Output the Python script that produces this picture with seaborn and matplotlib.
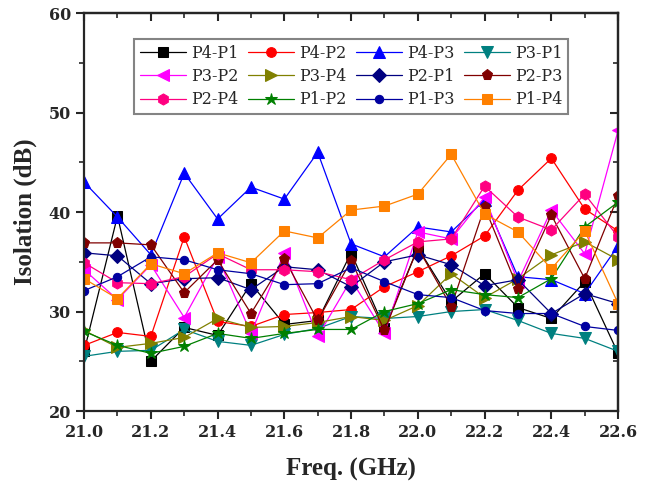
import matplotlib
matplotlib.use("Agg")
import matplotlib.pyplot as plt
import seaborn as sns
from matplotlib.ticker import MultipleLocator

# frequency points (GHz)
freq = [21.0, 21.1, 21.2, 21.3, 21.4, 21.5, 21.6, 21.7, 21.8,
        21.9, 22.0, 22.1, 22.2, 22.3, 22.4, 22.5, 22.6]

# isolation values (dB)
p4_p1 = [26.0, 39.6, 25.0, 28.4, 27.6, 32.8, 28.7, 29.1, 35.9, 28.3, 36.4, 31.0, 33.8, 30.4, 29.3, 33.0, 25.8]
p4_p2 = [26.6, 27.9, 27.5, 37.5, 29.0, 28.5, 29.7, 29.9, 30.2, 32.5, 34.0, 35.6, 37.6, 42.2, 45.4, 40.3, 38.1]
p4_p3 = [43.0, 39.5, 35.7, 43.9, 39.3, 42.5, 41.3, 46.0, 36.8, 35.5, 38.5, 38.0, 41.2, 33.5, 33.2, 31.8, 36.6]
p3_p1 = [25.5, 26.0, 26.1, 28.2, 27.0, 26.6, 27.7, 28.3, 29.5, 29.3, 29.5, 30.0, 30.2, 29.1, 27.8, 27.3, 26.0]
p3_p2 = [34.2, 31.2, 34.7, 29.4, 35.5, 27.8, 35.9, 27.5, 33.2, 27.8, 38.0, 37.3, 41.5, 33.0, 40.2, 35.8, 48.2]
p3_p4 = [28.1, 26.4, 26.8, 27.4, 29.3, 28.4, 28.5, 28.9, 29.5, 29.1, 30.6, 33.8, 31.4, 33.3, 35.7, 37.0, 35.2]
p2_p1 = [35.9, 35.6, 32.8, 33.3, 33.4, 32.2, 34.5, 34.2, 32.5, 35.0, 35.7, 34.7, 32.6, 33.2, 29.8, 31.8, 30.8]
p2_p3 = [36.9, 36.9, 36.7, 31.9, 35.2, 29.8, 35.3, 29.1, 35.1, 28.1, 36.4, 30.5, 40.5, 32.3, 39.7, 33.3, 41.6]
p2_p4 = [34.9, 32.9, 32.8, 33.5, 35.8, 34.2, 34.2, 34.0, 33.2, 35.2, 37.0, 37.3, 42.6, 39.5, 38.2, 41.8, 37.5]
p1_p2 = [28.0, 26.6, 25.8, 26.5, 27.8, 27.3, 27.8, 28.2, 28.2, 30.0, 30.8, 32.2, 31.7, 31.4, 33.3, 38.5, 41.0]
p1_p3 = [32.1, 33.5, 35.5, 35.2, 34.2, 33.8, 32.7, 32.8, 34.4, 33.0, 31.7, 31.4, 30.1, 29.8, 29.8, 28.5, 28.1]
p1_p4 = [33.3, 31.3, 34.8, 33.8, 35.9, 34.9, 38.1, 37.4, 40.2, 40.6, 41.8, 45.8, 39.8, 38.0, 34.3, 38.1, 30.8]

labels = ["P4-P1", "P4-P2", "P4-P3", "P3-P1",
          "P3-P2", "P3-P4", "P2-P1", "P2-P3",
          "P2-P4", "P1-P2", "P1-P3", "P1-P4"]
series = [p4_p1, p4_p2, p4_p3, p3_p1, p3_p2, p3_p4,
          p2_p1, p2_p3, p2_p4, p1_p2, p1_p3, p1_p4]
colors = ["#000000", "#FF0000", "#0000FF", "#008080",
          "#FF00FF", "#808000", "#000080", "#800000",
          "#FF0080", "#008000", "#0000A0", "#FF8000"]
markers = ["s", "o", "^", "v", "<", ">", "D", "p", "h", "*", "o", "s"]
msizes = [7, 7, 8, 8, 8, 8, 7, 8, 8, 9, 6, 7]

sns.set_style("ticks")
plt.rcParams["font.family"] = ["DejaVu Serif"]

fig = plt.figure(figsize=(6.52, 4.83), dpi=100)
ax = fig.add_axes([0.129, 0.149, 0.819, 0.824])

for vals, lab, col, mk, ms in zip(series, labels, colors, markers, msizes):
    sns.lineplot(x=freq, y=vals, ax=ax, color=col, marker=mk, markersize=ms,
                 markeredgecolor=col, linewidth=0.9, label=lab)

ax.set_xlim(21.0, 22.6)
ax.set_ylim(20, 60)
ax.xaxis.set_major_locator(MultipleLocator(0.2))
ax.xaxis.set_minor_locator(MultipleLocator(0.1))
ax.yaxis.set_major_locator(MultipleLocator(10))
ax.yaxis.set_minor_locator(MultipleLocator(5))
ax.set_xticks(ax.get_xticks())
ax.set_xticklabels([f"{t:.1f}" for t in ax.get_xticks()])
ax.set_xlim(21.0, 22.6)

for sp in ax.spines.values():
    sp.set_linewidth(1.6)
    sp.set_visible(True)
ax.tick_params(which="major", direction="out", length=6, width=1.5, labelsize=11.5)
ax.tick_params(which="minor", direction="out", length=3.5, width=1.2)
for t in ax.get_xticklabels() + ax.get_yticklabels():
    t.set_fontweight("bold")

top = ax.secondary_xaxis("top")
top.xaxis.set_major_locator(MultipleLocator(0.2))
top.xaxis.set_minor_locator(MultipleLocator(0.1))
top.tick_params(which="major", direction="in", length=6, width=1.5, labeltop=False)
top.tick_params(which="minor", direction="in", length=3.5, width=1.2)
top.spines["top"].set_linewidth(1.6)
right = ax.secondary_yaxis("right")
right.yaxis.set_major_locator(MultipleLocator(10))
right.yaxis.set_minor_locator(MultipleLocator(5))
right.tick_params(which="major", direction="in", length=6, width=1.5, labelright=False)
right.tick_params(which="minor", direction="in", length=3.5, width=1.2)
right.spines["right"].set_linewidth(1.6)

ax.set_xlabel("Freq. (GHz)", family="Liberation Serif", fontweight="bold",
              fontsize=18, labelpad=12)
ax.set_ylabel("Isolation (dB)", family="Liberation Serif", fontweight="bold",
              fontsize=18, labelpad=8)

# legend laid out row by row, 4 per row
handles, labs = ax.get_legend_handles_labels()
order = [r * 4 + c for c in range(4) for r in range(3)]
leg = ax.legend([handles[i] for i in order], [labs[i] for i in order],
                ncol=4, loc="upper center", bbox_to_anchor=(0.5, 0.955),
                fontsize=11.5, frameon=True, fancybox=False, edgecolor="#666666",
                handlelength=2.9, handletextpad=0.3, columnspacing=0.6,
                labelspacing=0.4, borderpad=0.35)
leg.get_frame().set_linewidth(1.5)

fig.savefig("out.png", dpi=100)
